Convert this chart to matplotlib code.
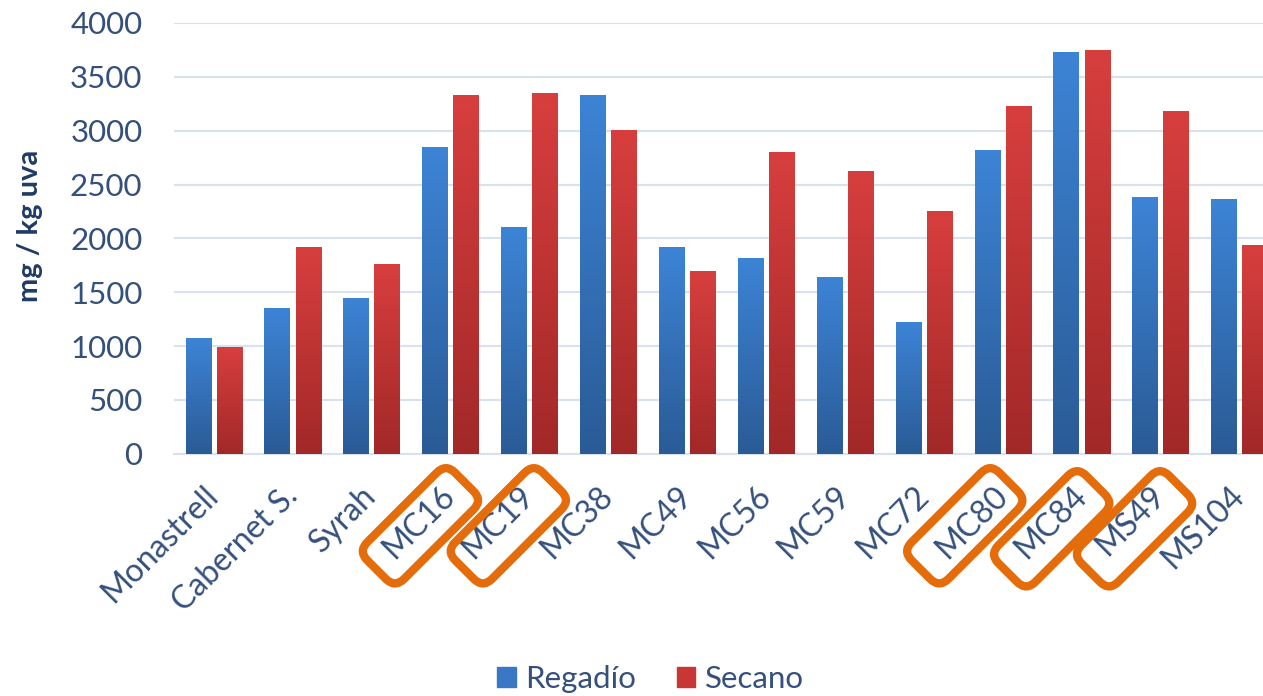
import numpy as np
import matplotlib
matplotlib.use('Agg')
import matplotlib.pyplot as plt
from matplotlib.patches import FancyBboxPatch, Patch
from matplotlib.colors import LinearSegmentedColormap
from matplotlib.transforms import Affine2D

categories = ['Monastrell', 'Cabernet S.', 'Syrah', 'MC16', 'MC19', 'MC38', 'MC49',
              'MC56', 'MC59', 'MC72', 'MC80', 'MC84', 'MS49', 'MS104']
regadio = [1075, 1355, 1450, 2850, 2105, 3335, 1920, 1820, 1645, 1225, 2820, 3735, 2385, 2370]
secano = [990, 1920, 1765, 3335, 3350, 3005, 1695, 2805, 2630, 2255, 3230, 3750, 3180, 1940]
highlighted = ['MC16', 'MC19', 'MC80', 'MC84', 'MS49']

# pixel offset of each orange box centre from its tick (x right, y up)
box_offsets = {'MC16': (-30, -72), 'MC19': (-21, -72), 'MC80': (-38, -72),
               'MC84': (-30, -75), 'MS49': (-26, -75)}

plt.rcParams['font.family'] = ['Lato', 'DejaVu Sans']
tick_color = '#34507b'
grid_color = '#d9e1ee'


def shade(ax, bars, top, bottom):
    """Fill each bar with a vertical gradient."""
    cmap = LinearSegmentedColormap.from_list('g', [bottom, top])
    grad = np.linspace(0, 1, 256).reshape(-1, 1)
    for b in bars:
        x0 = b.get_x()
        im = ax.imshow(grad, extent=[x0, x0 + b.get_width(), 0, b.get_height()],
                       origin='lower', cmap=cmap, aspect='auto', zorder=3)
        im.set_clip_path(b)


fig = plt.figure(figsize=(12.63, 6.96), dpi=100)
ax = fig.add_axes([0.138, 0.348, 0.8746, 0.619])

x = np.arange(len(categories))
w = 0.32
off = 0.197
bars_r = ax.bar(x - off, regadio, w, color='#3a78c6', zorder=2)
bars_s = ax.bar(x + off, secano, w, color='#c93636', zorder=2)
shade(ax, bars_r, '#3d84d6', '#2a5b96')
shade(ax, bars_s, '#d73f3e', '#a22828')

ax.set_xlim(-0.5, len(categories) - 0.5)
ax.set_ylim(0, 4000)
ax.set_yticks(range(0, 4001, 500))
ax.yaxis.grid(True, color=grid_color, lw=1.5)
ax.set_axisbelow(True)
for s in ['top', 'right', 'left']:
    ax.spines[s].set_visible(False)
ax.spines['bottom'].set_color(grid_color)
ax.spines['bottom'].set_linewidth(1.5)
ax.tick_params(axis='both', length=0, labelcolor=tick_color)
ax.tick_params(axis='y', pad=23, labelsize=22.5)
ax.tick_params(axis='x', pad=27, labelsize=23)

ax.set_xticks(x)
ax.set_xticklabels(categories, rotation=45, ha='right', va='center', rotation_mode='anchor')

ax.set_ylabel('mg / kg uva', fontsize=21, fontweight='bold', color='#1f3b66')
ax.yaxis.set_label_coords(-0.119, 0.53)

# orange highlight boxes around some labels
for name in highlighted:
    i = categories.index(name)
    px, py = ax.transData.transform((i, 0))
    dx, dy = box_offsets[name]
    box = FancyBboxPatch((-62, -26), 124, 52,
                         boxstyle='round,pad=0,rounding_size=13',
                         fill=False, ec='#e46c0a', lw=6, zorder=10,
                         transform=Affine2D().rotate_deg(45).translate(px + dx, py + dy))
    fig.add_artist(box)

handles = [Patch(color='#3a78c6'), Patch(color='#c93636')]
fig.legend(handles, ['Regadío', 'Secano'], loc='center', bbox_to_anchor=(0.515, 0.025),
           ncol=2, frameon=False, fontsize=22.5, handlelength=0.6, handleheight=0.6,
           handletextpad=0.3, columnspacing=1.3, labelcolor=tick_color)

fig.savefig('out.png', dpi=100)
